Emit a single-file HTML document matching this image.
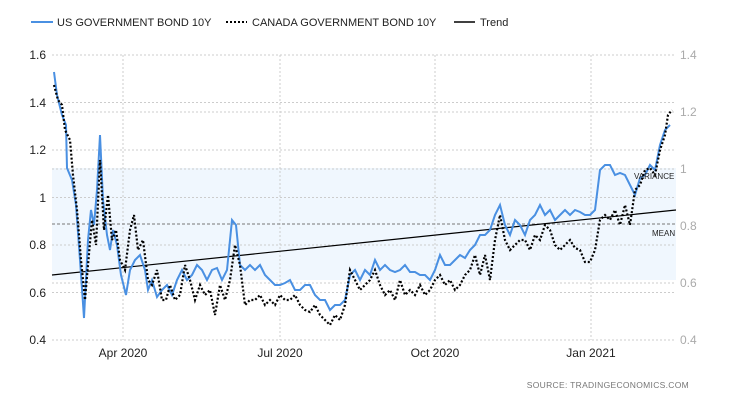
<!DOCTYPE html>
<html><head><style>
body{margin:0;background:#fff;}
svg text{font-family:"Liberation Sans",sans-serif;}
</style></head><body>
<svg width="730" height="400" xmlns="http://www.w3.org/2000/svg">
<rect width="730" height="400" fill="#fff"/>
<rect x="52" y="168" width="624" height="112" fill="#f0f7fe"/>
<g stroke="#ccc" stroke-dasharray="2,2" stroke-width="1">
<line x1="52" x2="676" y1="55" y2="55"/><line x1="52" x2="676" y1="102.5" y2="102.5"/><line x1="52" x2="676" y1="150" y2="150"/><line x1="52" x2="676" y1="197.5" y2="197.5"/><line x1="52" x2="676" y1="245" y2="245"/><line x1="52" x2="676" y1="292.5" y2="292.5"/><line x1="52" x2="676" y1="340" y2="340"/>
<line x1="52" x2="676" y1="112" y2="112"/><line x1="52" x2="676" y1="169" y2="169"/><line x1="52" x2="676" y1="283" y2="283"/>
<line x1="123" x2="123" y1="55" y2="340"/><line x1="280" x2="280" y1="55" y2="340"/><line x1="435" x2="435" y1="55" y2="340"/><line x1="591" x2="591" y1="55" y2="340"/>
</g>
<line x1="52" x2="676" y1="224" y2="224" stroke="#777" stroke-dasharray="3,2"/>
<line x1="52" y1="275" x2="676" y2="210" stroke="#000" stroke-width="1.2"/>
<polyline fill="none" stroke="#4a90e2" stroke-width="2" points="54,72 57,95 62,115 66,125 67,168 72,180 76,205 80,260 84,318 88,240 91,210 94,225 97,190 100,135 103,200 107,235 110,250 113,230 117,245 121,275 126,295 130,270 135,260 140,255 145,270 148,290 152,280 157,297 162,290 167,285 172,295 177,280 182,270 187,280 192,275 197,265 202,270 207,280 212,270 217,268 222,280 227,270 232,220 236,225 240,265 245,270 250,265 255,270 260,265 265,275 270,280 275,285 280,285 285,283 290,280 295,290 300,290 305,285 310,285 315,295 320,300 325,300 330,310 335,305 340,305 345,300 350,275 355,270 360,280 365,270 370,275 375,260 380,270 385,265 390,270 395,272 400,270 405,265 410,272 415,272 420,275 425,275 430,280 435,270 440,255 445,265 450,265 455,260 460,255 465,258 470,250 475,245 480,235 485,235 490,230 495,215 500,205 505,225 510,235 515,220 520,225 525,235 530,220 535,215 540,205 545,215 550,210 555,220 560,215 565,210 570,215 575,210 580,212 585,215 590,215 595,210 600,170 605,165 610,165 615,175 620,173 625,175 630,185 635,195 640,178 645,175 650,165 655,170 660,145 665,130 670,125"/>
<polyline fill="none" stroke="#000" stroke-width="2.2" stroke-dasharray="2,2" points="54,85 58,100 62,105 65,130 70,140 73,175 77,210 81,260 85,300 88,265 92,220 96,245 100,160 104,230 108,195 112,240 116,230 120,260 125,270 130,230 134,215 138,250 143,240 148,280 152,285 157,270 162,300 166,300 170,285 175,300 180,295 185,265 190,280 195,300 200,285 205,295 210,290 215,315 220,285 225,300 230,280 235,245 240,265 245,305 250,300 255,300 260,295 265,305 270,300 275,305 280,295 285,300 290,300 295,295 300,305 305,310 310,312 315,305 320,315 325,320 330,325 335,315 340,320 345,305 350,270 355,280 360,290 365,285 370,280 375,270 380,285 385,295 390,290 395,300 400,280 405,295 410,290 415,295 420,285 425,295 430,290 435,280 440,275 445,285 450,280 455,290 460,285 465,275 470,270 475,255 480,275 485,255 490,280 495,240 500,215 505,240 510,250 515,245 520,240 525,240 530,250 535,235 540,240 545,225 550,230 555,245 560,250 565,245 570,240 575,248 580,250 585,262 590,262 595,250 600,220 605,215 610,220 615,210 620,225 625,205 630,225 635,190 640,185 645,170 650,168 655,175 660,150 665,135 668,115 672,110"/>
<g font-size="8" fill="#222"><text x="634" y="179">VARIANCE</text><text x="652" y="236">MEAN</text></g>
<g font-size="12" fill="#222" text-anchor="end">
<text x="46" y="59">1.6</text><text x="46" y="107">1.4</text><text x="46" y="154">1.2</text><text x="46" y="202">1</text><text x="46" y="249">0.8</text><text x="46" y="297">0.6</text><text x="46" y="344">0.4</text></g>
<g font-size="12" fill="#aaa">
<text x="680" y="59">1.4</text><text x="680" y="116">1.2</text><text x="680" y="173">1</text><text x="680" y="230">0.8</text><text x="680" y="287">0.6</text><text x="680" y="344">0.4</text></g>
<g font-size="12" fill="#222" text-anchor="middle">
<text x="123" y="357">Apr 2020</text><text x="280" y="357">Jul 2020</text><text x="435" y="357">Oct 2020</text><text x="591" y="357">Jan 2021</text></g>
<line x1="31" y1="22" x2="53" y2="22" stroke="#4a90e2" stroke-width="2"/>
<text x="57" y="26" font-size="11" fill="#222">US GOVERNMENT BOND 10Y</text>
<line x1="226" y1="22" x2="247" y2="22" stroke="#000" stroke-width="2" stroke-dasharray="2,2"/>
<text x="252" y="26" font-size="11" fill="#222">CANADA GOVERNMENT BOND 10Y</text>
<line x1="454" y1="22" x2="475" y2="22" stroke="#000" stroke-width="1.5"/>
<text x="480" y="26" font-size="11" fill="#222">Trend</text>
<text x="689" y="388" font-size="8.5" fill="#777" text-anchor="end" letter-spacing="0.3">SOURCE:  TRADINGECONOMICS.COM</text>
</svg>
</body></html>
